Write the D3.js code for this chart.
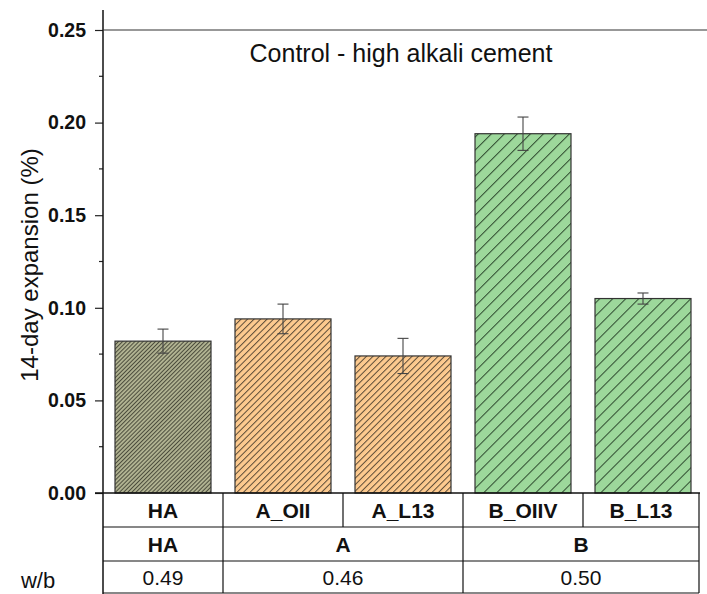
<!DOCTYPE html>
<html>
<head>
<meta charset="utf-8">
<script src="https://cdn.jsdelivr.net/npm/d3@7/dist/d3.min.js"></script>
<style>
  html, body { margin: 0; padding: 0; background: #fff; }
  svg { display: block; font-family: "Liberation Sans", Arial, sans-serif; }
</style>
</head>
<body>
<svg id="chart" width="707" height="594"></svg>
<script>
// Mixes, their binder group and water/binder ratio
const categories = ["HA", "A_OII", "A_L13", "B_OIIV", "B_L13"];
const groups = ["HA", "A", "A", "B", "B"];
const wbRatios = ["0.49", "0.46", "0.46", "0.50", "0.50"];
// 14-day expansion (%) and standard deviation
const expansion = [0.082, 0.094, 0.074, 0.194, 0.105];
const errors = [0.0065, 0.008, 0.0095, 0.009, 0.003];
const yTicks = [0.00, 0.05, 0.10, 0.15, 0.20, 0.25];

const groupStyle = {
  HA: { fill: "#b1b392", line: "#4b4c3c", gap: 2.9 },
  A:  { fill: "#fdca8f", line: "#5a4a36", gap: 4.6 },
  B:  { fill: "#9dd89b", line: "#2e4a2e", gap: 9.2 }
};

const svg = d3.select("#chart");
const plotLeft = 103, plotRight = 703, plotTop = 30, plotBase = 493;
const tableRight = 699;
const rowEdges = [493, 527, 561, 593];

const x = d3.scaleBand().domain(categories).range([plotLeft, plotRight]).paddingInner(0.2).paddingOuter(0.1);
const y = d3.scaleLinear().domain([0, 0.25]).range([plotBase, plotTop]);

// hatch patterns, one per group
const defs = svg.append("defs");
Object.entries(groupStyle).forEach(([key, s]) => {
  const p = defs.append("pattern")
    .attr("id", "hatch-" + key)
    .attr("patternUnits", "userSpaceOnUse")
    .attr("width", s.gap).attr("height", s.gap)
    .attr("patternTransform", "rotate(45)");
  p.append("rect").attr("width", s.gap).attr("height", s.gap).attr("fill", s.fill);
  p.append("line").attr("x1", 0.5).attr("x2", 0.5).attr("y1", 0).attr("y2", s.gap)
    .attr("stroke", s.line).attr("stroke-width", 1);
});

const data = categories.map((c, i) => ({ c, g: groups[i], v: expansion[i], e: errors[i] }));

// bars
svg.append("g").selectAll("rect").data(data).join("rect")
  .attr("x", d => x(d.c))
  .attr("width", x.bandwidth())
  .attr("y", d => y(d.v))
  .attr("height", d => y(0) - y(d.v))
  .attr("fill", d => `url(#hatch-${d.g})`)
  .attr("stroke", "#333")
  .attr("stroke-width", 1.2);

// error bars
const eb = svg.append("g").attr("stroke", "#444").attr("stroke-width", 1.1);
data.forEach(d => {
  const cx = x(d.c) + x.bandwidth() / 2;
  eb.append("line").attr("x1", cx).attr("x2", cx).attr("y1", y(d.v + d.e)).attr("y2", y(d.v - d.e));
  [d.v + d.e, d.v - d.e].forEach(t => {
    eb.append("line").attr("x1", cx - 5.5).attr("x2", cx + 5.5).attr("y1", y(t)).attr("y2", y(t));
  });
});

// y axis
const yAxis = d3.axisLeft(y).tickValues(yTicks).tickFormat(d3.format(".2f")).tickSize(8).tickPadding(9);
const ya = svg.append("g").attr("transform", `translate(${plotLeft},0)`).call(yAxis)
  .attr("font-family", "'Liberation Sans', Arial, sans-serif").attr("font-size", 19.5);
ya.select(".domain").remove();
ya.selectAll("text").attr("font-weight", "bold").attr("fill", "#111");
ya.selectAll("line").attr("stroke", "#222").attr("stroke-width", 1.2);
const minor = d3.range(0.025, 0.25, 0.05);
svg.append("g").selectAll("line").data(minor).join("line")
  .attr("x1", plotLeft - 4).attr("x2", plotLeft).attr("y1", d => y(d)).attr("y2", d => y(d))
  .attr("stroke", "#222").attr("stroke-width", 1.2);

// axis lines
svg.append("line").attr("x1", plotLeft).attr("x2", plotLeft).attr("y1", 10).attr("y2", 594)
  .attr("stroke", "#111").attr("stroke-width", 1.5);
svg.append("line").attr("x1", plotLeft).attr("x2", 707).attr("y1", y(0.25)).attr("y2", y(0.25))
  .attr("stroke", "#333").attr("stroke-width", 1.2);
svg.append("line").attr("x1", plotLeft - 8).attr("x2", tableRight + 1).attr("y1", plotBase).attr("y2", plotBase)
  .attr("stroke", "#111").attr("stroke-width", 1.5);

// table beneath the bars
const tbl = svg.append("g").attr("stroke", "#111").attr("stroke-width", 1.2);
rowEdges.slice(1).forEach(ry => {
  tbl.append("line").attr("x1", plotLeft).attr("x2", tableRight).attr("y1", ry).attr("y2", ry);
});
tbl.append("line").attr("x1", tableRight).attr("x2", tableRight).attr("y1", plotBase).attr("y2", rowEdges[3]);

const cellFont = 21;
const colEdge = i => i < categories.length ? plotLeft + (plotRight - plotLeft) * i / categories.length : tableRight;
// row 1: one cell per mix
categories.forEach((c, i) => {
  if (i > 0) tbl.append("line").attr("x1", colEdge(i)).attr("x2", colEdge(i))
    .attr("y1", rowEdges[0]).attr("y2", rowEdges[1]);
  svg.append("text").attr("x", (colEdge(i) + colEdge(i + 1)) / 2).attr("y", (rowEdges[0] + rowEdges[1]) / 2 + 7.5)
    .attr("text-anchor", "middle").attr("font-size", cellFont).attr("font-weight", "bold").attr("fill", "#111").text(c);
});
// rows 2 and 3: cells merged across a group
function spans(vals) {
  const out = [];
  vals.forEach((v, i) => {
    const last = out[out.length - 1];
    if (last && groups[last.start] === groups[i]) last.end = i + 1;
    else out.push({ v, start: i, end: i + 1 });
  });
  return out;
}
[[groups, 1, "bold"], [wbRatios, 2, "normal"]].forEach(([vals, r, weight]) => {
  spans(vals).forEach(s => {
    if (s.start > 0) tbl.append("line").attr("x1", colEdge(s.start)).attr("x2", colEdge(s.start))
      .attr("y1", rowEdges[r]).attr("y2", rowEdges[r + 1]);
    svg.append("text").attr("x", (colEdge(s.start) + colEdge(s.end)) / 2).attr("y", (rowEdges[r] + rowEdges[r + 1]) / 2 + 7.5)
      .attr("text-anchor", "middle").attr("font-size", cellFont).attr("font-weight", weight).attr("fill", "#111").text(s.v);
  });
});
svg.append("text").attr("x", 38).attr("y", 588).attr("text-anchor", "middle")
  .attr("font-size", 22).attr("fill", "#111").text("w/b");

// titles
svg.append("text").attr("x", 401).attr("y", 62).attr("text-anchor", "middle")
  .attr("font-size", 25).attr("fill", "#111").text("Control - high alkali cement");
svg.append("text").attr("transform", `translate(38,265) rotate(-90)`).attr("text-anchor", "middle")
  .attr("font-size", 24).attr("fill", "#111").text("14-day expansion (%)");
</script>
</body>
</html>
